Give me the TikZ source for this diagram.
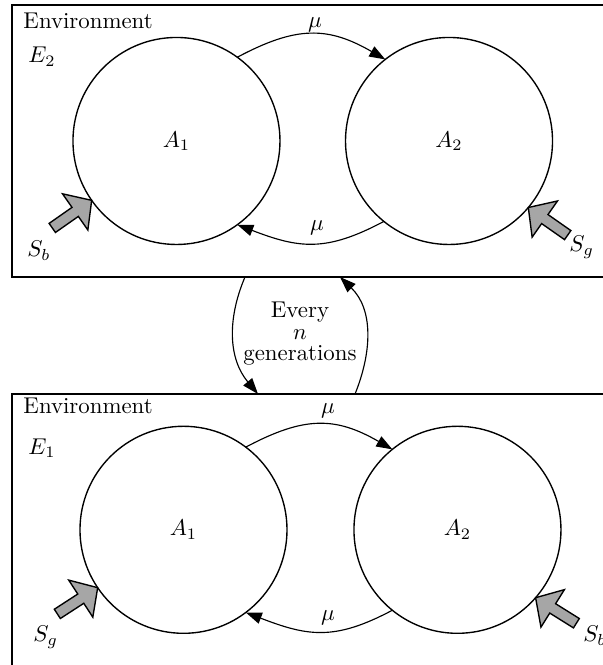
\documentclass[tikz,border=0pt]{standalone}
\usepackage{amsmath}
\usepackage{xcolor}
\usepackage{tikz}
\usetikzlibrary{arrows.meta}

\tikzset{
  sarrow/.pic={\draw[fill=black!35,line width=0.6pt] (0,0) -- (-0.31,0.34) -- (-0.31,0.085)
    -- (-0.74,0.085) -- (-0.74,-0.085) -- (-0.31,-0.085) -- (-0.31,-0.34) -- cycle;}
}

\begin{document}
\begin{tikzpicture}[
  envbox/.style={rectangle,draw,line width=0.9pt,outer sep=0pt,anchor=north west,minimum width=9.6cm},
  agent/.style={circle,draw,line width=0.6pt,minimum size=3.185cm,inner sep=0pt,outer sep=0pt},
  flow/.style={line width=0.5pt,looseness=1.15,-{Triangle[length=7pt,width=5pt]}},
  lbl/.style={inner sep=0pt,anchor=base west},
  mu/.style={inner sep=0pt,anchor=base}]
  \useasboundingbox (0,0) rectangle (9.262,10.231);
  % environment E2
  \node[envbox,minimum height=4.185cm] (env2) at (0.185,10.154) {};
  \node[lbl] (env2txt) at (0.354,9.785) {Environment};
  \node[lbl] (e2txt) at (0.431,9.262) {$E_2$};
  \node[agent] (e2a1) at (2.715,8.062) {$A_1$};
  \node[agent] (e2a2) at (6.908,8.062) {$A_2$};
  \draw[flow] (e2a1.54) to[out=28,in=150] (e2a2.128);
  \draw[flow] (e2a2.231) to[out=208,in=-21] (e2a1.306);
  \node[mu] (mu2a) at (4.846,9.815) {$\mu$};
  \node[mu] (mu2b) at (4.877,6.692) {$\mu$};
  \pic[rotate=35] at (e2a1.215) {sarrow};
  \pic[rotate=145] at (e2a2.-40) {sarrow};
  \node[lbl] (sb2) at (0.415,6.277) {$S_b$};
  \node[lbl] (sg2) at (8.754,6.354) {$S_g$};
  % environment E1
  \node[envbox,minimum height=4.6cm] (env1) at (0.185,4.169) {};
  \node[lbl] (env1txt) at (0.354,3.862) {Environment};
  \node[lbl] (e1txt) at (0.431,3.246) {$E_1$};
  \node[agent] (e1a1) at (2.823,2.08) {$A_1$};
  \node[agent] (e1a2) at (7.038,2.08) {$A_2$};
  \draw[flow] (e1a1.53) to[out=28,in=150] (e1a2.129);
  \draw[flow] (e1a2.231) to[out=208,in=-21] (e1a1.307);
  \node[mu] (mu1a) at (5.046,3.862) {$\mu$};
  \node[mu] (mu1b) at (5.046,0.692) {$\mu$};
  \pic[rotate=33] at (e1a1.214) {sarrow};
  \pic[rotate=148] at (e1a2.-41) {sarrow};
  \node[lbl] (sg1) at (0.508,0.354) {$S_g$};
  \node[lbl] (sb1) at (8.969,0.354) {$S_b$};
  % switching
  \node[align=center,inner sep=0pt] (gen) at (4.615,5.092) {Every\\[-2.6pt]$n$\\[-2.6pt]generations};
  \coordinate (downs) at (3.769,5.969);
  \coordinate (downe) at (3.969,4.169);
  \coordinate (ups) at (5.462,4.169);
  \coordinate (upe) at (5.231,5.969);
  \draw[flow,looseness=1] (downs) to[out=247,in=130] (downe);
  \draw[flow,looseness=1] (ups) to[out=68,in=-44] (upe);
\end{tikzpicture}
\end{document}
